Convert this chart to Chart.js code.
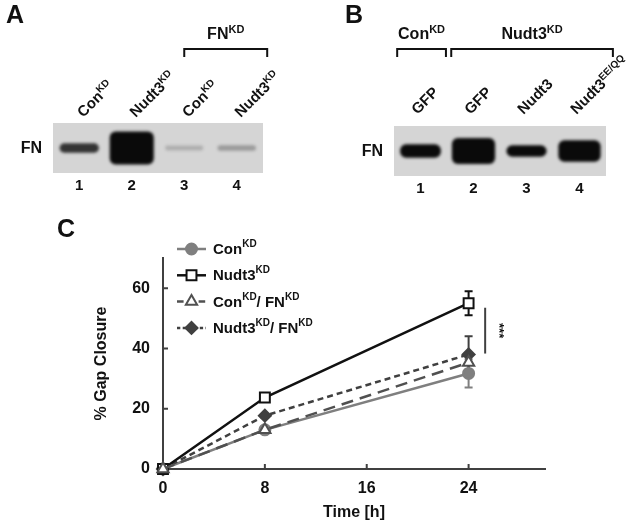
<!DOCTYPE html>
<html>
<head>
<meta charset="utf-8">
<script src="https://cdn.jsdelivr.net/npm/chart.js@4.4.1/dist/chart.umd.min.js"></script>
<style>
  html, body { margin: 0; padding: 0; background: #fff; }
  #fig { position: relative; width: 633px; height: 522px; overflow: hidden; }
  canvas { position: absolute; }
</style>
</head>
<body>
<div id="fig">
  <canvas id="blotA" width="316" height="200" style="left:0;top:0"></canvas>
  <canvas id="blotB" width="317" height="200" style="left:316px;top:0"></canvas>
  <canvas id="gap" width="633" height="322" style="left:0;top:200px"></canvas>
</div>
<script>
// ---- panel A / B (western blots) ----
const lanes = ["1", "2", "3", "4"];
const laneLabelsA = [["Con", "KD"], ["Nudt3", "KD"], ["Con", "KD"], ["Nudt3", "KD"]];
const laneLabelsB = [["GFP", ""], ["GFP", ""], ["Nudt3", ""], ["Nudt3", "EE/QQ"]];
const signalA = [0.25, 1.0, 0.06, 0.09];
const signalB = [0.4, 0.8, 0.33, 0.65];
const groupsA = [{ text: "FN", sup: "KD", from: 2, to: 3.58 }];
const groupsB = [
  { text: "Con", sup: "KD", from: -0.44, to: 0.48 },
  { text: "Nudt3", sup: "KD", from: 0.58, to: 3.63 }
];

// ---- panel C (gap closure) ----
const timeH = [0, 8, 24];
const xTicks = [0, 8, 16, 24];
const yTicks = [0, 20, 40, 60];
const conKD = [0, 13, 31.7];
const conKDErr = [0, 0, 4.7];
const nudt3KD = [0, 23.7, 55];
const nudt3KDErr = [0, 0, 4];
const conFN = [0, 13, 35.3];
const conFNErr = [0, 0, 2.5];
const nudt3FN = [0, 17.7, 38];
const nudt3FNErr = [0, 0, 6];
const sigBar = { x: 25.3, from: 53.5, to: 38.3, text: "***" };

const FONT = '"Liberation Sans", Arial, sans-serif';
const INK = "#111";

// draws "base" + superscript parts, returns width
function richText(ctx, parts, x, y, size, measureOnly) {
  let w = 0;
  parts.forEach((p, i) => {
    if (!p) return;
    const sup = i % 2 === 1;
    const s = sup ? Math.round(size * 0.68) : size;
    ctx.font = "bold " + s + "px " + FONT;
    if (!measureOnly) ctx.fillText(p, x + w, sup ? y - size * 0.38 : y);
    w += ctx.measureText(p).width;
  });
  return w;
}

function blotPlugin(letter, labels, groups, labelBaseY, labelShift) {
  return {
    id: "blot" + letter,
    beforeDatasetsDraw(chart) {
      const { ctx, chartArea: a } = chart;
      const meta = chart.getDatasetMeta(0);
      const signal = chart.data.datasets[0].data;
      ctx.save();
      ctx.fillStyle = "#d5d5d5";
      ctx.fillRect(a.left, a.top, a.right - a.left, a.bottom - a.top);
      ctx.beginPath();
      ctx.rect(a.left, a.top, a.right - a.left, a.bottom - a.top);
      ctx.clip();
      const cy = chart.scales.y.getPixelForValue(0.5);
      meta.data.forEach((bar, i) => {
        const s = signal[i];
        const h = 4 + 29 * Math.pow(s, 1.2);
        const w = bar.width * (0.9 + 0.15 * s);
        ctx.save();
        ctx.globalAlpha = Math.min(1, s * 3.2);
        ctx.filter = "blur(1.6px)";
        ctx.fillStyle = "#0a0a0a";
        ctx.beginPath();
        ctx.roundRect(bar.x - w / 2, cy - h / 2, w, h, Math.min(h / 2, 6));
        ctx.fill();
        ctx.restore();
      });
      ctx.restore();
    },
    afterDraw(chart) {
      const { ctx, chartArea: a } = chart;
      const xs = chart.scales.x;
      ctx.save();
      ctx.fillStyle = INK;
      ctx.strokeStyle = INK;
      ctx.textBaseline = "alphabetic";
      // lane labels, rotated
      labels.forEach((lab, i) => {
        ctx.save();
        ctx.translate(xs.getPixelForValue(i) + labelShift, labelBaseY);
        ctx.rotate(-Math.PI / 4);
        richText(ctx, lab, 0, 0, 15);
        ctx.restore();
      });
      // group brackets
      groups.forEach((g) => {
        const x0 = xs.getPixelForValue(g.from);
        const x1 = xs.getPixelForValue(g.to);
        const top = 49;
        ctx.lineWidth = 2;
        ctx.beginPath();
        ctx.moveTo(x0, top + 8);
        ctx.lineTo(x0, top);
        ctx.lineTo(x1, top);
        ctx.lineTo(x1, top + 8);
        ctx.stroke();
        const w = richText(ctx, [g.text, g.sup], 0, 0, 16, true);
        richText(ctx, [g.text, g.sup], (x0 + x1) / 2 - w / 2, 39, 16);
      });
      // row label
      ctx.font = "bold 16px " + FONT;
      ctx.textAlign = "right";
      ctx.textBaseline = "middle";
      ctx.fillText("FN", a.left - 11, (a.top + a.bottom) / 2 + 1);
      // panel letter
      ctx.textAlign = "left";
      ctx.textBaseline = "alphabetic";
      ctx.font = "bold 25px " + FONT;
      ctx.fillText(letter, letter === "A" ? 6 : 29, 23);
      ctx.restore();
    }
  };
}

function makeBlot(id, letter, signal, labels, groups, pad, xHeight, labelBaseY, labelShift) {
  new Chart(document.getElementById(id), {
    type: "bar",
    data: {
      labels: lanes,
      datasets: [{ data: signal, backgroundColor: "rgba(0,0,0,0)", categoryPercentage: 0.8, barPercentage: 1 }]
    },
    options: {
      responsive: false,
      animation: false,
      layout: { padding: pad },
      plugins: { legend: { display: false }, tooltip: { enabled: false } },
      scales: {
        x: {
          grid: { display: false, drawTicks: false },
          border: { display: false },
          ticks: { color: INK, font: { family: FONT, size: 15, weight: "bold" }, padding: 4 },
          afterFit: (s) => { s.height = xHeight; }
        },
        y: { display: false, min: 0, max: 1 }
      }
    },
    plugins: [blotPlugin(letter, labels, groups, labelBaseY, labelShift)]
  });
}

makeBlot("blotA", "A", signalA, laneLabelsA, groupsA, { left: 53, right: 53, top: 123, bottom: 0 }, 27, 118, 4);
makeBlot("blotB", "B", signalB, laneLabelsB, groupsB, { left: 78, right: 27, top: 126, bottom: 0 }, 24, 115, -3);

// ---- panel C ----
const series = [
  { label: ["Con", "KD"], data: conKD, err: conKDErr, color: "#7f7f7f", dash: [], style: "circle", fill: "#7f7f7f", r: 5.5, order: 3 },
  { label: ["Nudt3", "KD"], data: nudt3KD, err: nudt3KDErr, color: "#111111", dash: [], style: "rect", fill: "#ffffff", r: 7, order: 1 },
  { label: ["Con", "KD", "/ FN", "KD"], data: conFN, err: conFNErr, color: "#505050", dash: [12, 7], style: "triangle", fill: "#ffffff", r: 6.5, order: 0 },
  { label: ["Nudt3", "KD", "/ FN", "KD"], data: nudt3FN, err: nudt3FNErr, color: "#404040", dash: [6, 4], style: "rectRot", fill: "#404040", r: 6, order: 2 }
];

const gapPlugin = {
  id: "gapExtras",
  beforeDatasetsDraw(chart) {
    const { ctx } = chart;
    const xs = chart.scales.x, ys = chart.scales.y;
    ctx.save();
    series.forEach((s) => {
      ctx.strokeStyle = s.color;
      ctx.lineWidth = 2;
      s.err.forEach((e, i) => {
        if (!e) return;
        const x = xs.getPixelForValue(timeH[i]);
        const y0 = ys.getPixelForValue(s.data[i] - e);
        const y1 = ys.getPixelForValue(s.data[i] + e);
        ctx.beginPath();
        ctx.moveTo(x, y0); ctx.lineTo(x, y1);
        ctx.moveTo(x - 4, y0); ctx.lineTo(x + 4, y0);
        ctx.moveTo(x - 4, y1); ctx.lineTo(x + 4, y1);
        ctx.stroke();
      });
    });
    ctx.restore();
  },
  afterDraw(chart) {
    const { ctx, chartArea: a } = chart;
    const xs = chart.scales.x, ys = chart.scales.y;
    const H = Chart.helpers;
    ctx.save();
    // inward tick marks
    ctx.strokeStyle = "#404040";
    ctx.lineWidth = 2;
    ctx.beginPath();
    yTicks.slice(1).forEach((v) => {
      const y = ys.getPixelForValue(v);
      ctx.moveTo(a.left, y); ctx.lineTo(a.left + 5, y);
    });
    xTicks.slice(1).forEach((v) => {
      const x = xs.getPixelForValue(v);
      ctx.moveTo(x, a.bottom); ctx.lineTo(x, a.bottom - 5);
    });
    ctx.stroke();
    // significance bar
    const sx = xs.getPixelForValue(sigBar.x);
    ctx.strokeStyle = "#404040";
    ctx.beginPath();
    ctx.moveTo(sx, ys.getPixelForValue(sigBar.from));
    ctx.lineTo(sx, ys.getPixelForValue(sigBar.to));
    ctx.stroke();
    ctx.save();
    ctx.translate(sx + 13, ys.getPixelForValue((sigBar.from + sigBar.to) / 2));
    ctx.rotate(Math.PI / 2);
    ctx.fillStyle = INK;
    ctx.font = "bold 13px " + FONT;
    ctx.textAlign = "center";
    ctx.textBaseline = "middle";
    ctx.fillText(sigBar.text, 0, 0);
    ctx.restore();
    // legend
    series.forEach((s, i) => {
      const y = 49 + i * 26.3;
      ctx.strokeStyle = s.color;
      ctx.lineWidth = 2.5;
      ctx.setLineDash(s.dash.length ? [s.dash[0] * 0.55, s.dash[1] * 0.6] : []);
      ctx.beginPath();
      ctx.moveTo(177, y); ctx.lineTo(206, y);
      ctx.stroke();
      ctx.setLineDash([]);
      ctx.fillStyle = s.fill;
      ctx.lineWidth = 2;
      H.drawPoint(ctx, { pointStyle: s.style, radius: s.r, rotation: 0, borderWidth: 2 }, 191.5, y);
      ctx.fillStyle = INK;
      ctx.textBaseline = "middle";
      richText(ctx, s.label, 213, y + 1, 15);
    });
    // panel letter
    ctx.fillStyle = INK;
    ctx.textBaseline = "alphabetic";
    ctx.font = "bold 25px " + FONT;
    ctx.fillText("C", 57, 37);
    ctx.restore();
  }
};

new Chart(document.getElementById("gap"), {
  type: "line",
  data: {
    labels: timeH,
    datasets: series.map((s) => ({
      label: s.label.join(""),
      data: s.data.map((v, i) => ({ x: timeH[i], y: v })),
      borderColor: s.color,
      borderWidth: 2.5,
      borderDash: s.dash,
      pointStyle: s.style,
      pointRadius: s.r,
      pointBorderWidth: 2,
      pointBackgroundColor: s.fill,
      pointBorderColor: s.color,
      order: s.order,
      clip: false,
      tension: 0
    }))
  },
  options: {
    responsive: false,
    animation: false,
    layout: { padding: { left: 0, top: 58, right: 88, bottom: 0 } },
    plugins: { legend: { display: false }, tooltip: { enabled: false } },
    scales: {
      x: {
        type: "linear",
        min: 0,
        max: 30,
        afterBuildTicks: (s) => { s.ticks = xTicks.map((v) => ({ value: v })); },
        afterFit: (s) => { s.height = 53; },
        grid: { display: false, drawTicks: false },
        border: { display: true, color: "#404040", width: 2 },
        ticks: { color: INK, font: { family: FONT, size: 16, weight: "bold" }, padding: 10 },
        title: { display: true, text: "Time [h]", color: INK, font: { family: FONT, size: 16, weight: "bold" }, padding: { top: 0, bottom: 0 } }
      },
      y: {
        min: 0,
        max: 70,
        afterBuildTicks: (s) => { s.ticks = yTicks.map((v) => ({ value: v })); },
        afterFit: (s) => { s.width = 163; },
        grid: { display: false, drawTicks: false },
        border: { display: true, color: "#404040", width: 2 },
        ticks: { color: INK, font: { family: FONT, size: 16, weight: "bold" }, padding: 13 },
        title: { display: true, text: "% Gap Closure", color: INK, font: { family: FONT, size: 16, weight: "bold" }, padding: { top: 92, bottom: 0 } }
      }
    }
  },
  plugins: [gapPlugin]
});
</script>
</body>
</html>
